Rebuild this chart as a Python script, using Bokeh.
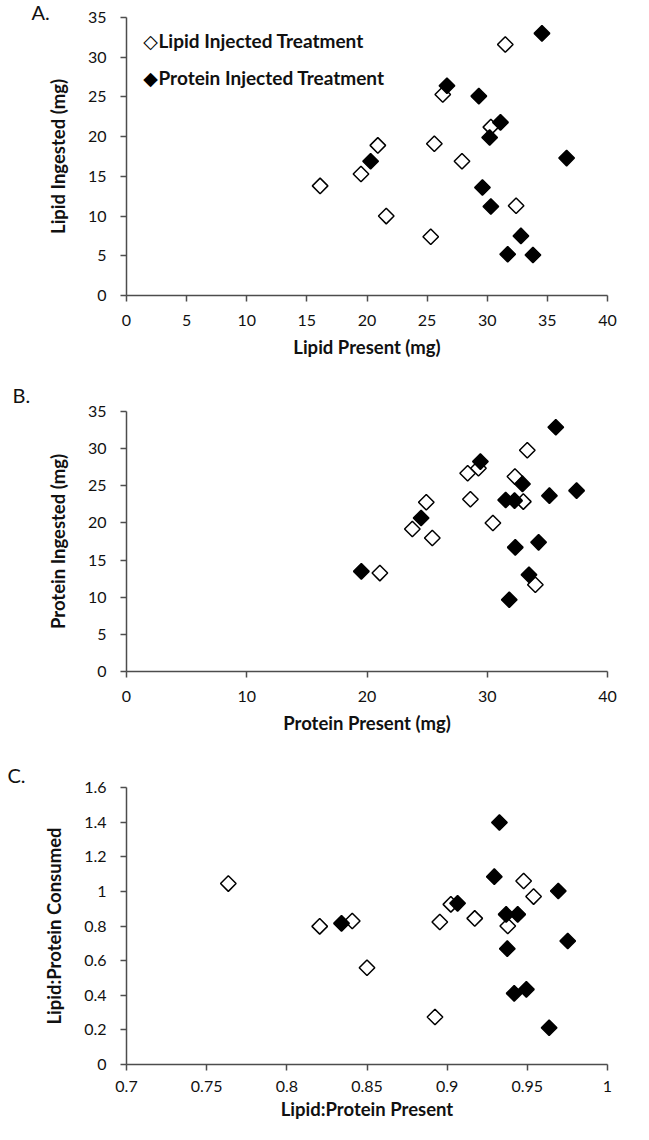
from bokeh.plotting import figure
from bokeh.layouts import column
from bokeh.models import Range1d, FixedTicker, Label
from bokeh.embed import file_html
from bokeh.resources import INLINE
import numpy as np

series_names = ["Lipid Injected Treatment", "Protein Injected Treatment"]
panel_letters = ["A.", "B.", "C."]

# Panel A: lipid present vs lipid ingested
a_lipid_x = [16.1, 19.5, 20.9, 21.6, 25.6, 25.3, 26.3, 27.9, 30.3, 31.5, 32.4]
a_lipid_y = [13.8, 15.3, 18.9, 10.0, 19.1, 7.4, 25.3, 16.9, 21.2, 31.6, 11.3]
a_protein_x = [20.3, 26.65, 29.3, 31.1, 30.2, 29.6, 30.3, 32.8, 31.7, 33.8, 34.55, 36.6]
a_protein_y = [16.9, 26.4, 25.1, 21.8, 19.9, 13.6, 11.2, 7.5, 5.2, 5.1, 33.0, 17.3]
a_xticks = [0, 5, 10, 15, 20, 25, 30, 35, 40]
a_yticks = [0, 5, 10, 15, 20, 25, 30, 35]

# Panel B: protein present vs protein ingested
b_lipid_x = [21.07, 23.77, 24.93, 25.43, 28.37, 29.27, 28.6, 30.47, 32.3, 33.0, 33.33, 34.0]
b_lipid_y = [13.25, 19.18, 22.78, 17.97, 26.68, 27.36, 23.18, 19.99, 26.24, 22.87, 29.78, 11.68]
b_protein_x = [19.53, 24.5, 29.43, 31.53, 32.27, 32.93, 32.33, 34.27, 33.47, 31.83, 35.17, 35.7, 37.43]
b_protein_y = [13.48, 20.66, 28.26, 23.09, 23.0, 25.25, 16.71, 17.39, 13.03, 9.66, 23.67, 32.88, 24.35]
b_xticks = [0, 10, 20, 30, 40]
b_yticks = [0, 5, 10, 15, 20, 25, 30, 35]

# Panel C: lipid:protein present vs consumed
c_lipid_x = [0.7635, 0.8205, 0.8408, 0.850, 0.8924, 0.8954, 0.9023, 0.9172, 0.9378, 0.9477, 0.9539]
c_lipid_y = [1.045, 0.798, 0.829, 0.559, 0.274, 0.823, 0.925, 0.844, 0.800, 1.060, 0.970]
c_protein_x = [0.8341, 0.9065, 0.9294, 0.9326, 0.9368, 0.944, 0.9375, 0.9418, 0.9494, 0.9636, 0.9693, 0.9752]
c_protein_y = [0.815, 0.931, 1.085, 1.398, 0.867, 0.867, 0.669, 0.411, 0.434, 0.212, 1.002, 0.713]
c_xticks = [0.7, 0.75, 0.8, 0.85, 0.9, 0.95, 1.0]
c_xtick_labels = ["0.7", "0.75", "0.8", "0.85", "0.9", "0.95", "1"]
c_yticks = [0.0, 0.2, 0.4, 0.6, 0.8, 1.0, 1.2, 1.4, 1.6]
c_ytick_labels = ["0", "0.2", "0.4", "0.6", "0.8", "1", "1.2", "1.4", "1.6"]

FONT = "Lato"
AXIS_COLOR = "#4d4d4d"
TEXT_COLOR = "#111111"


def make_panel(h, borders, xr, yr, xticks, yticks, xlabel, ylabel, letter,
               letter_offset, letter_standoff, ox, oy, px, py,
               xoverrides=None, yoverrides=None, x_std=(13, 7)):
    left, right, top, bottom = borders
    p = figure(width=633, height=h, output_backend="svg", toolbar_location=None,
               x_range=Range1d(*xr), y_range=Range1d(*yr),
               min_border_left=left, min_border_right=right,
               min_border_top=top, min_border_bottom=bottom)
    p.outline_line_color = None
    p.grid.visible = False
    p.background_fill_color = "white"
    p.border_fill_color = "white"

    # panel letter as the figure title, pulled to the left edge
    p.title.text = letter
    p.title.align = "left"
    p.title.offset = letter_offset
    p.title.standoff = letter_standoff
    p.title.text_font = FONT
    p.title.text_font_size = "20px"
    p.title.text_font_style = "normal"
    p.title.text_color = TEXT_COLOR

    for ax, ticks, lab, ov in ((p.xaxis[0], xticks, xlabel, xoverrides),
                               (p.yaxis[0], yticks, ylabel, yoverrides)):
        ax.ticker = FixedTicker(ticks=ticks)
        ax.minor_tick_line_color = None
        ax.axis_line_color = AXIS_COLOR
        ax.axis_line_width = 1.5
        ax.major_tick_line_color = AXIS_COLOR
        ax.major_tick_line_width = 1.5
        ax.major_tick_in = 0
        ax.major_tick_out = 6
        ax.major_label_text_font = FONT
        ax.major_label_text_font_size = "16px"
        ax.major_label_text_color = TEXT_COLOR
        ax.axis_label = lab
        ax.axis_label_text_font = FONT
        ax.axis_label_text_font_size = "18.5px"
        ax.axis_label_text_font_style = "bold"
        ax.axis_label_text_color = TEXT_COLOR
        if ov:
            ax.major_label_overrides = ov
    p.xaxis.major_label_standoff = x_std[0]
    p.xaxis.axis_label_standoff = x_std[1]
    p.yaxis.major_label_standoff = 14
    p.yaxis.axis_label_standoff = 16

    p.scatter(ox, oy, marker="square", angle=np.pi / 4, size=11,
              fill_color="white", line_color="black", line_width=1.5)
    p.scatter(px, py, marker="square", angle=np.pi / 4, size=11,
              fill_color="black", line_color="black", line_width=1.5)
    return p


pa = make_panel(374, (100, 26, 17, 79), (0, 40), (0, 35), a_xticks, a_yticks,
                "Lipid Present (mg)", "Lipid Ingested (mg)", panel_letters[0],
                -95, -12, a_lipid_x, a_lipid_y, a_protein_x, a_protein_y)

# legend (panel A), positioned relative to the plot frame
for i, (sym, name) in enumerate(zip(["\u25c7", "\u25c6"], series_names)):
    yy = 255.3 - i * 37
    pa.add_layout(Label(x=24, y=yy - 1, x_units="screen", y_units="screen", text=sym,
                        text_font="DejaVu Sans", text_font_size="19px",
                        text_color="black", text_align="center", text_baseline="alphabetic"))
    pa.add_layout(Label(x=32, y=yy, x_units="screen", y_units="screen", text=name,
                        text_font=FONT, text_font_size="19px", text_font_style="bold",
                        text_color=TEXT_COLOR, text_align="left", text_baseline="alphabetic"))

pb = make_panel(378, (121, 14, 37, 81), (0, 40), (0, 35), b_xticks, b_yticks,
                "Protein Present (mg)", "Protein Ingested (mg)", panel_letters[1],
                -114, 10, b_lipid_x, b_lipid_y, b_protein_x, b_protein_y)

pc = make_panel(372, (126, 6, 35, 60), (0.7, 1.0), (0, 1.6), c_xticks, c_yticks,
                "Lipid:Protein Present", "Lipid:Protein Consumed", panel_letters[2],
                -119, 2, c_lipid_x, c_lipid_y, c_protein_x, c_protein_y,
                xoverrides=dict(zip(c_xticks, c_xtick_labels)),
                yoverrides=dict(zip(c_yticks, c_ytick_labels)),
                x_std=(10, 3))

layout = column(pa, pb, pc, spacing=0)
open("out.html", "w").write(file_html(layout, INLINE))
